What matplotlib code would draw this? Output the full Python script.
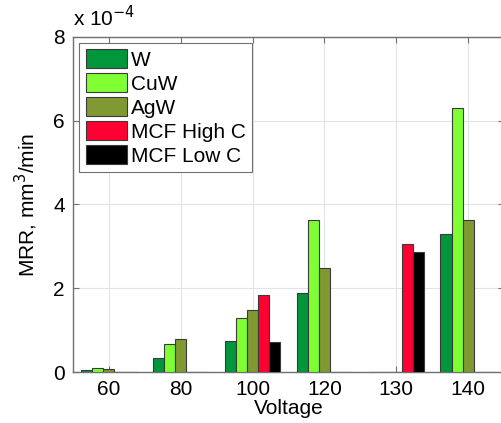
import numpy as np
import matplotlib
matplotlib.use('Agg')
import matplotlib.pyplot as plt

plt.rcParams['font.family'] = ['Liberation Sans', 'DejaVu Sans']

voltages = ['60', '80', '100', '120', '130', '140']
series = ['W', 'CuW', 'AgW', 'MCF High C', 'MCF Low C']
# MRR values in units of 1e-4 mm^3/min (0 = not measured)
w_vals = [0.05, 0.33, 0.74, 1.89, 0, 3.29]
cuw_vals = [0.10, 0.68, 1.29, 3.64, 0, 6.30]
agw_vals = [0.06, 0.79, 1.49, 2.49, 0, 3.64]
mcf_high = [0, 0, 1.85, 0, 3.05, 0]
mcf_low = [0, 0, 0.72, 0, 2.86, 0]
colors = ['#00963c', '#80ff33', '#809933', '#ff0033', '#000000']

data = [w_vals, cuw_vals, agw_vals, mcf_high, mcf_low]

fig = plt.figure(figsize=(5.01, 4.23), dpi=100)
ax = fig.add_axes([73/501, 51/423, 431/501, 335/423])

x = np.arange(1, len(voltages) + 1)
n = len(series)
bw = 0.769 / n
for i in range(n):
    ax.bar(x + (i - (n - 1) / 2) * bw, data[i], width=bw, color=colors[i],
           edgecolor='#3a3a3a', linewidth=0.8, label=series[i], zorder=3)

ax.set_xlim(0.5, 6.5)
ax.set_ylim(0, 8)
ax.set_xticks(x)
ax.set_xticklabels(voltages)
ax.set_yticks([0, 2, 4, 6, 8])
ax.grid(True, color='#e3e3e3', linewidth=0.8, zorder=0)
ax.set_axisbelow(True)
ax.tick_params(direction='in', length=4, top=True, right=True,
               labelsize=15, color='#707070', pad=6)
for s in ax.spines.values():
    s.set_color('#707070')
    s.set_linewidth(1.0)

ax.set_xlabel('Voltage', fontsize=15, labelpad=0)
ax.set_ylabel('MRR, mm$^3$/min', fontsize=15, labelpad=9)
ax.text(0.0, 1.02, 'x 10$^{-4}$', transform=ax.transAxes, fontsize=15,
        ha='left', va='bottom')

leg = ax.legend(loc='upper left', fontsize=15, handlelength=2.0,
                handleheight=1.0, handletextpad=0.2, labelspacing=0.17,
                borderpad=0.3, borderaxespad=0.3, fancybox=False,
                framealpha=1, edgecolor='#707070')
leg.get_frame().set_linewidth(0.8)

plt.savefig('out.png', dpi=100)
